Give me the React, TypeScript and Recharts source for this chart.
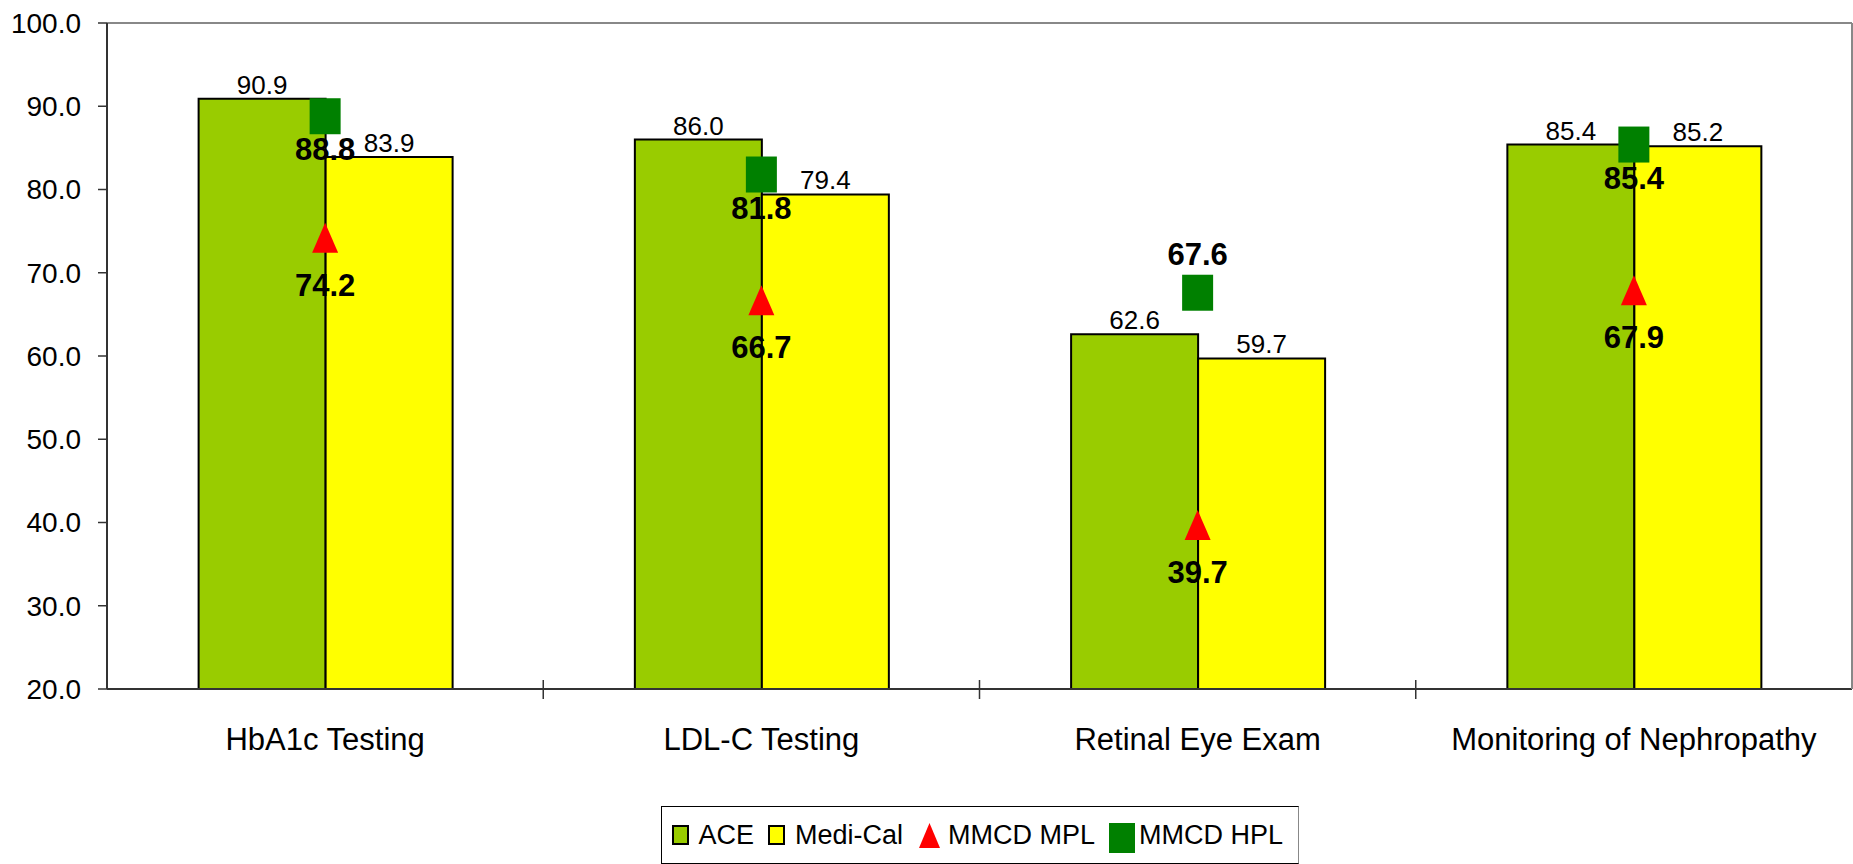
import React from 'react';
import {
  ComposedChart,
  Bar,
  Line,
  XAxis,
  YAxis,
  Legend,
  LabelList,
  ReferenceLine,
} from 'recharts';

const categories = ['HbA1c Testing', 'LDL-C Testing', 'Retinal Eye Exam', 'Monitoring of Nephropathy'];
const aceValues = [90.9, 86.0, 62.6, 85.4];
const mediCalValues = [83.9, 79.4, 59.7, 85.2];
const mmcdMplValues = [74.2, 66.7, 39.7, 67.9];
const mmcdHplValues = [88.8, 81.8, 67.6, 85.4];
const yTicks = [20, 30, 40, 50, 60, 70, 80, 90, 100];

// where the bold HPL label goes (Excel put the Retinal one above the marker)
const hplLabelAbove = [false, false, true, false];

const chartData = categories.map((category, i) => ({
  category,
  ace: aceValues[i],
  mediCal: mediCalValues[i],
  mpl: mmcdMplValues[i],
  hpl: mmcdHplValues[i],
}));

const FONT = "'Liberation Sans', Arial, sans-serif";
const ACE_GREEN = '#99CC00';
const MEDI_YELLOW = '#FFFF00';
const MPL_RED = '#FF0000';
const HPL_GREEN = '#008000';
const AXIS = '#333333';
const FRAME = '#888888';
const X_TICK_MARGIN = 39;

const fmt = (v: number) => Number(v).toFixed(1);

// category label + Excel-style tick mark on the right boundary of each category
const CategoryTick = (props: any) => {
  const { x, y, payload, index, visibleTicksCount } = props;
  const axisY = y - X_TICK_MARGIN;
  const edgeX = x + (payload.offset || 0);
  return (
    <g>
      <text x={x} y={y} dy="0.71em" textAnchor="middle" fill="#000" fontSize={31} fontFamily={FONT}>
        {payload.value}
      </text>
      {index < visibleTicksCount - 1 && (
        <line x1={edgeX} x2={edgeX} y1={axisY - 9} y2={axisY + 10} stroke={AXIS} strokeWidth={1.5} />
      )}
    </g>
  );
};

const Triangle = (props: any) => {
  const { cx, cy, index } = props;
  if (cx == null || cy == null) return <g key={`mpl-${index}`} />;
  const w = 26;
  const h = 30;
  return (
    <path
      key={`mpl-${index}`}
      d={`M${cx},${cy - h / 2} L${cx + w / 2},${cy + h / 2} L${cx - w / 2},${cy + h / 2} Z`}
      fill={MPL_RED}
    />
  );
};

const Square = (props: any) => {
  const { cx, cy, index } = props;
  if (cx == null || cy == null) return <g key={`hpl-${index}`} />;
  const w = 31;
  const h = 36;
  return <rect key={`hpl-${index}`} x={cx - w / 2} y={cy - h / 2} width={w} height={h} fill={HPL_GREEN} />;
};

const pointOf = (props: any) => {
  const vb = props.viewBox || {};
  return { x: vb.x ?? props.x, y: vb.y ?? props.y };
};

const MplLabel = (props: any) => {
  const { x, y } = pointOf(props);
  return (
    <text x={x} y={y + 58} textAnchor="middle" fontFamily={FONT} fontSize={31} fontWeight="bold" fill="#000">
      {fmt(props.value)}
    </text>
  );
};

const HplLabel = (props: any) => {
  const { x, y } = pointOf(props);
  const above = hplLabelAbove[props.index];
  return (
    <text
      x={x}
      y={above ? y - 28 : y + 44}
      textAnchor="middle"
      fontFamily={FONT}
      fontSize={31}
      fontWeight="bold"
      fill="#000"
    >
      {fmt(props.value)}
    </text>
  );
};

const legendItems = [
  { key: 'ace', label: 'ACE' },
  { key: 'mediCal', label: 'Medi-Cal' },
  { key: 'mpl', label: 'MMCD MPL' },
  { key: 'hpl', label: 'MMCD HPL' },
];

const LegendIcon = ({ type }: { type: string }) => {
  if (type === 'ace' || type === 'mediCal') {
    return (
      <span
        style={{
          display: 'inline-block',
          boxSizing: 'border-box',
          width: 17,
          height: 20,
          background: type === 'ace' ? ACE_GREEN : MEDI_YELLOW,
          border: '2px solid #000',
          marginRight: 10,
        }}
      />
    );
  }
  if (type === 'mpl') {
    return (
      <svg width={21} height={25} style={{ marginRight: 8, marginLeft: 2 }}>
        <path d="M10.5,0 L21,25 L0,25 Z" fill={MPL_RED} />
      </svg>
    );
  }
  return <span style={{ display: 'inline-block', width: 26, height: 30, background: HPL_GREEN, marginRight: 4, marginTop: 5 }} />;
};

const ChartLegend = () => (
  <div
    style={{
      boxSizing: 'border-box',
      width: 638,
      height: 58,
      margin: '0 auto',
      border: '1.5px solid #000',
      borderRightColor: FRAME,
      display: 'flex',
      alignItems: 'center',
      paddingLeft: 10,
      fontFamily: FONT,
      fontSize: 27,
      color: '#000',
      background: '#fff',
    }}
  >
    {legendItems.map((item, i) => (
      <span key={item.key} style={{ display: 'flex', alignItems: 'center', marginRight: i < 3 ? 14 : 0 }}>
        <LegendIcon type={item.key} />
        <span>{item.label}</span>
      </span>
    ))}
  </div>
);

export default function App() {
  return (
    <div style={{ position: 'absolute', left: 0, top: 0, background: '#fff' }}>
      <ComposedChart
        width={1853}
        height={864}
        data={chartData}
        margin={{ top: 23, right: 0, bottom: 0, left: 0 }}
        barGap={0}
        barCategoryGap="21%"
        style={{ fontFamily: FONT }}
      >
        <XAxis
          dataKey="category"
          height={117}
          axisLine={{ stroke: AXIS, strokeWidth: 2 }}
          tickLine={false}
          tickSize={0}
          tickMargin={X_TICK_MARGIN}
          interval={0}
          tick={<CategoryTick />}
        />
        <YAxis
          width={107}
          domain={[20, 100]}
          ticks={yTicks}
          allowDataOverflow
          tickFormatter={fmt}
          axisLine={{ stroke: AXIS, strokeWidth: 2 }}
          tickLine={{ stroke: AXIS, strokeWidth: 1.5 }}
          tickSize={9}
          tickMargin={17}
          tick={{ fill: '#000', fontSize: 28, fontFamily: FONT }}
        />
        {/* right edge of the plot frame */}
        <YAxis
          yAxisId="frame"
          orientation="right"
          width={1}
          domain={[20, 100]}
          allowDataOverflow
          tick={false}
          tickLine={false}
          axisLine={{ stroke: FRAME, strokeWidth: 2 }}
        />
        <ReferenceLine y={100} stroke={FRAME} strokeWidth={2} />
        <Legend
          verticalAlign="bottom"
          wrapperStyle={{ left: 107, width: 1745, bottom: 0 }}
          content={() => <ChartLegend />}
        />
        <Bar dataKey="ace" name="ACE" fill={ACE_GREEN} stroke="#000" strokeWidth={2} isAnimationActive={false}>
          <LabelList dataKey="ace" position="top" offset={5} formatter={fmt} fill="#000" fontSize={26} fontFamily={FONT} />
        </Bar>
        <Bar dataKey="mediCal" name="Medi-Cal" fill={MEDI_YELLOW} stroke="#000" strokeWidth={2} isAnimationActive={false}>
          <LabelList dataKey="mediCal" position="top" offset={5} formatter={fmt} fill="#000" fontSize={26} fontFamily={FONT} />
        </Bar>
        <Line dataKey="mpl" name="MMCD MPL" stroke="none" dot={Triangle} activeDot={false} isAnimationActive={false}>
          <LabelList dataKey="mpl" content={MplLabel} />
        </Line>
        <Line dataKey="hpl" name="MMCD HPL" stroke="none" dot={Square} activeDot={false} isAnimationActive={false}>
          <LabelList dataKey="hpl" content={HplLabel} />
        </Line>
      </ComposedChart>
    </div>
  );
}
